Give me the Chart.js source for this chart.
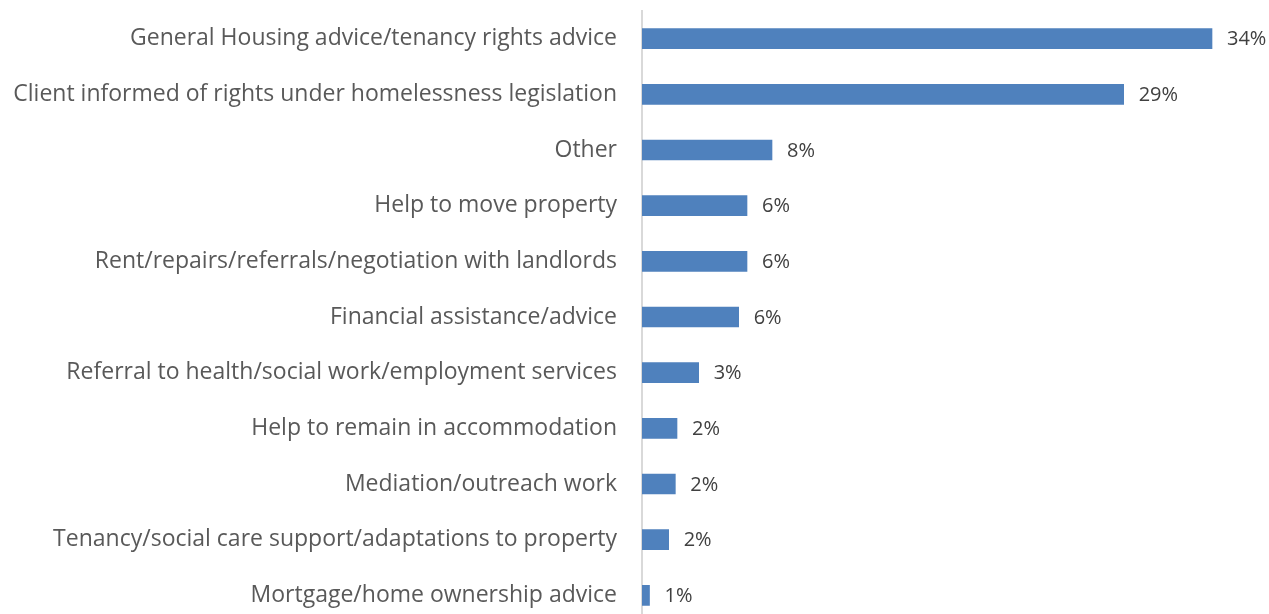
<!DOCTYPE html>
<html>
<head>
<meta charset="utf-8">
<script src="https://cdn.jsdelivr.net/npm/chart.js@4"></script>
<style>
	html, body { margin: 0; padding: 0; background: #fff; overflow: hidden; }
	#chart { display: block; margin-top: -28px; }
</style>
</head>
<body>
<canvas id="chart" width="1269" height="690"></canvas>
<script>
// 類別與數值
var categories = [
	'General Housing advice/tenancy rights advice',
	'Client informed of rights under homelessness legislation',
	'Other',
	'Help to move property',
	'Rent/repairs/referrals/negotiation with landlords',
	'Financial assistance/advice',
	'Referral to health/social work/employment services',
	'Help to remain in accommodation',
	'Mediation/outreach work',
	'Tenancy/social care support/adaptations to property',
	'Mortgage/home ownership advice',
];
var values = [34.2, 28.9, 7.8, 6.3, 6.3, 5.8, 3.4, 2.1, 2.0, 1.6, 0.45];
var valueLabels = ['34%', '29%', '8%', '6%', '6%', '6%', '3%', '2%', '2%', '2%', '1%'];

var fontFamily = '"Open Sans", "Noto Sans", sans-serif';

// 在 bar 後面畫百分比
var barLabels = {
	id: 'barLabels',
	afterDatasetsDraw(chart){
		var ctx = chart.ctx;
		var meta = chart.getDatasetMeta(0);
		ctx.save();
		ctx.font = '20px ' + fontFamily;
		ctx.fillStyle = '#404040';
		ctx.textBaseline = 'middle';
		ctx.textAlign = 'left';
		meta.data.forEach((bar, i) => {
			ctx.fillText(valueLabels[i], bar.x + 15, bar.y + 1);
		});
		ctx.restore();
	}
};

var chart = new Chart(document.getElementById('chart'), {
	type: 'bar',
	data: {
		labels: categories,
		datasets: [{
			data: values,
			backgroundColor: '#4f81bd',
			borderWidth: 0,
			barThickness: 20,
		}]
	},
	options: {
		indexAxis: 'y',
		responsive: false,
		animation: false,
		layout: { padding: { top: 0, right: 27, bottom: 0, left: 0 } },
		plugins: {
			legend: { display: false },
			tooltip: { enabled: false },
		},
		scales: {
			x: {
				display: false,
				min: 0,
				max: 36,
			},
			y: {
				afterFit(scale){ scale.width = 642; },
				grid: { display: false, drawTicks: false },
				border: { display: true, color: '#d9d9d9', width: 2 },
				ticks: {
					padding: 25,
					color: '#595959',
					font: { family: fontFamily, size: 23 },
				},
			}
		}
	},
	plugins: [barLabels]
});
</script>
</body>
</html>
